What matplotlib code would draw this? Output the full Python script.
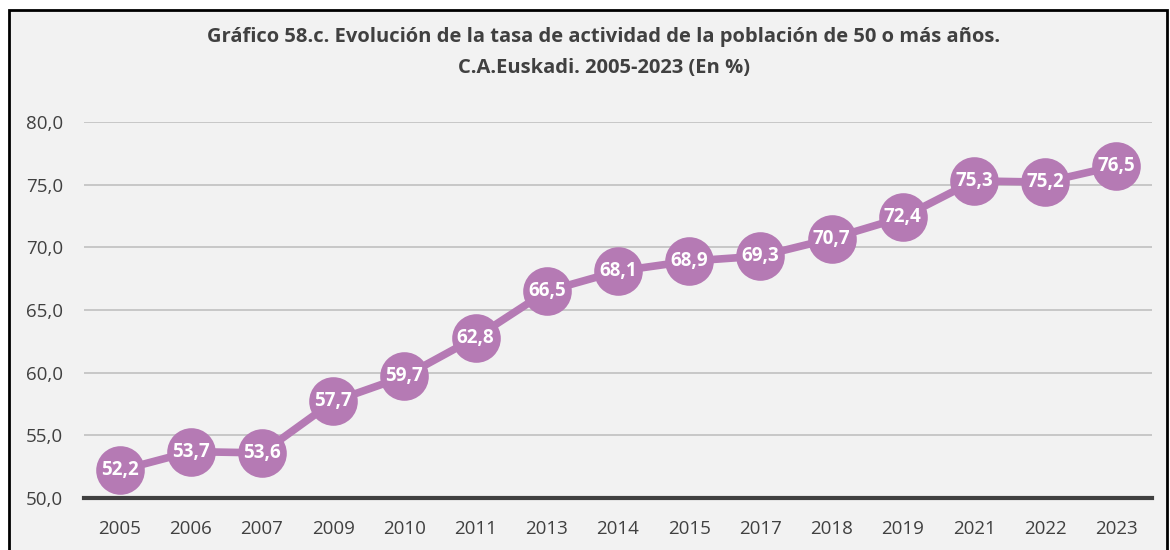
import matplotlib.pyplot as plt
from matplotlib.patches import Rectangle

plt.rcParams['font.family'] = ['Open Sans', 'DejaVu Sans']

# tasa de actividad, poblacion de 50 o mas años
years = ["2005", "2006", "2007", "2009", "2010", "2011", "2013", "2014",
         "2015", "2017", "2018", "2019", "2021", "2022", "2023"]
tasa = [52.2, 53.7, 53.6, 57.7, 59.7, 62.8, 66.5, 68.1,
        68.9, 69.3, 70.7, 72.4, 75.3, 75.2, 76.5]
yticks = [50, 55, 60, 65, 70, 75, 80]

bg = "#f2f2f2"
purple = "#b57ab4"
text_col = "#404040"

fig = plt.figure(figsize=(11.7, 5.5), dpi=100, facecolor="white")
# frame round the chart area, kept behind the axes
fig.patches.append(Rectangle((9 / 1170, -0.01), 1158 / 1170, 1 - 10 / 550 + 0.01,
                             transform=fig.transFigure, facecolor=bg,
                             edgecolor="black", linewidth=2, zorder=-1))

ax = fig.add_axes([84 / 1170, 1 - 498 / 550, 1068 / 1170, 376 / 550])
ax.set_facecolor("none")

x = list(range(len(years)))
ax.plot(x, tasa, color=purple, linewidth=5.5, marker="o", markersize=35,
        markeredgewidth=0, zorder=3, clip_on=False)
for xi, v in zip(x, tasa):
    ax.text(xi, v, f"{v:.1f}".replace(".", ","), ha="center", va="center",
            color="white", fontsize=13.5, fontweight="bold", zorder=4)

ax.set_xlim(-0.5, len(years) - 0.5)
ax.set_ylim(50, 80)
ax.set_xticks(x)
ax.set_xticklabels(years)
ax.set_yticks(yticks)
ax.set_yticklabels([f"{t:.1f}".replace(".", ",") for t in yticks])
ax.tick_params(length=0, labelsize=13.5, labelcolor=text_col)
ax.tick_params(axis="x", pad=16)
ax.tick_params(axis="y", pad=15)

ax.grid(axis="y", color="#c0c0c0", linewidth=1.2)
ax.set_axisbelow(True)
for side in ["top", "right", "left"]:
    ax.spines[side].set_visible(False)
ax.spines["bottom"].set_color("#404040")
ax.spines["bottom"].set_linewidth(3)

fig.text(0.516, 1 - 37 / 550,
         "Gráfico 58.c. Evolución de la tasa de actividad de la población de 50 o más años.",
         ha="center", va="center", fontsize=14.5, fontweight="bold", color=text_col)
fig.text(0.516, 1 - 68 / 550, "C.A.Euskadi. 2005-2023 (En %)",
         ha="center", va="center", fontsize=14.5, fontweight="bold", color=text_col)

plt.savefig("out.png", dpi=100, facecolor="white")
